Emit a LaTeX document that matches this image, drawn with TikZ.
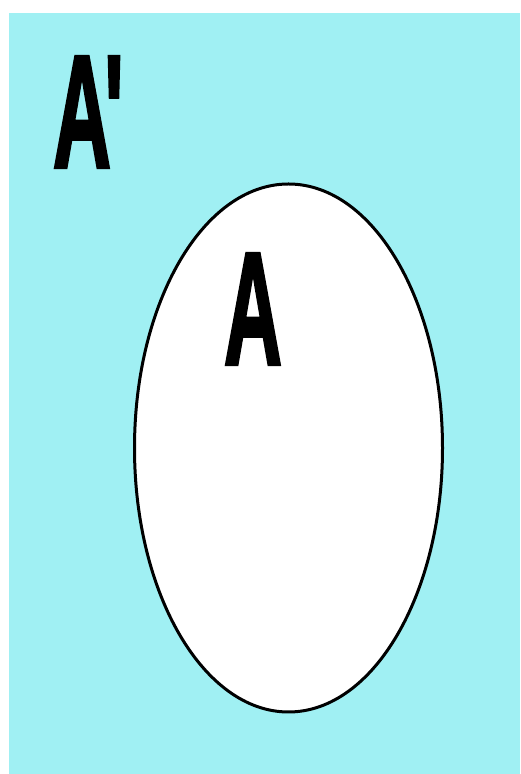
\documentclass[tikz,border=0pt]{standalone}
\usepackage{fontspec}
\newfontfamily\lblfont{Liberation Sans}[BoldFeatures={FakeBold=2.5}]
\usetikzlibrary{shapes.geometric}
\definecolor{bgcyan}{RGB}{160,240,243}
\begin{document}
\begin{tikzpicture}[x=1pt,y=1pt,
  lbl/.style={inner sep=0pt, anchor=base west, font=\lblfont\fontsize{160}{160}\selectfont\bfseries, xscale=0.5}]
\useasboundingbox (0,0) rectangle (520,774);
\fill[white] (0,0) rectangle (520,774);
\fill[bgcyan] (9,0) rectangle (520,761);
\node[draw=black, fill=white, line width=3pt, ellipse, minimum width=308pt, minimum height=528pt, inner sep=0pt] (setA) at (288.5,326) {};
\node[lbl] (comp) at (53,607) {A\kern-0.08em'};
\node[lbl] (a) at (224,410) {A};
\end{tikzpicture}
\end{document}
